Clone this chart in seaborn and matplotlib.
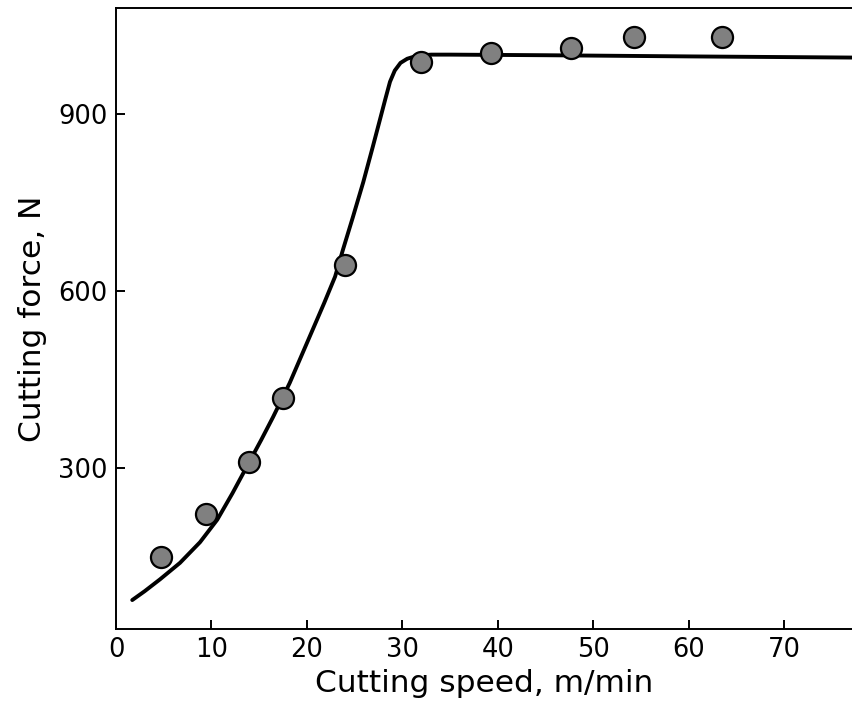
import matplotlib
matplotlib.use("Agg")
import matplotlib.pyplot as plt
import seaborn as sns
import pandas as pd

# measured data points
speed = [4.7, 9.4, 13.9, 17.5, 24.0, 32.0, 39.3, 47.7, 54.3, 63.5]
force = [150, 223, 311, 420, 645, 989, 1004, 1013, 1031, 1031]

# fitted curve
curve_speed = [1.7, 3.0, 4.6, 6.7, 8.8, 10.6, 12.2, 13.7, 15.2, 16.45, 18.2, 19.4,
               20.6, 21.8, 22.95, 23.8, 24.8, 25.9, 26.9, 27.6, 28.2, 28.7, 29.2,
               29.8, 30.5, 31.5, 33.0, 35.0, 45.0, 60.0, 77.5]
curve_force = [77, 92, 112, 140, 175, 213, 258, 303, 348, 387, 445, 490,
               535, 580, 625, 672, 725, 785, 845, 888, 925, 955, 974,
               987, 994, 999, 1001, 1001, 1000, 998, 996]

sns.set_theme(style="white")
plt.rcParams['font.family'] = ['DejaVu Sans']
plt.rcParams['text.color'] = 'black'
plt.rcParams['axes.labelcolor'] = 'black'

fig = plt.figure(figsize=(8.53, 7.08), dpi=100)
ax = fig.add_axes([0.136, 0.1116, 0.864, 0.8771])

df_curve = pd.DataFrame({"speed": curve_speed, "force": curve_force})
df_pts = pd.DataFrame({"speed": speed, "force": force})

sns.lineplot(data=df_curve, x="speed", y="force", ax=ax, color="black",
             linewidth=2.8, sort=False, zorder=2)
sns.scatterplot(data=df_pts, x="speed", y="force", ax=ax, s=230,
                color="#808080", edgecolor="black", linewidth=1.6, zorder=3)

ax.set_xlim(0, 77.2)
ax.set_ylim(28, 1080)
ax.set_xticks([0, 10, 20, 30, 40, 50, 60, 70])
ax.set_yticks([300, 600, 900])
ax.set_xlabel("Cutting speed, m/min", fontsize=22.5, labelpad=4, color="black")
ax.set_ylabel("Cutting force, N", fontsize=22.5, labelpad=8, color="black")
ax.tick_params(axis="both", direction="in", length=6.5, width=1.4,
               labelsize=18.5, colors="black", pad=6,
               bottom=True, left=True)
for side in ["left", "bottom", "top"]:
    ax.spines[side].set_color("black")
    ax.spines[side].set_linewidth(1.4)
ax.spines["right"].set_visible(False)

fig.savefig("out.png", dpi=100)
